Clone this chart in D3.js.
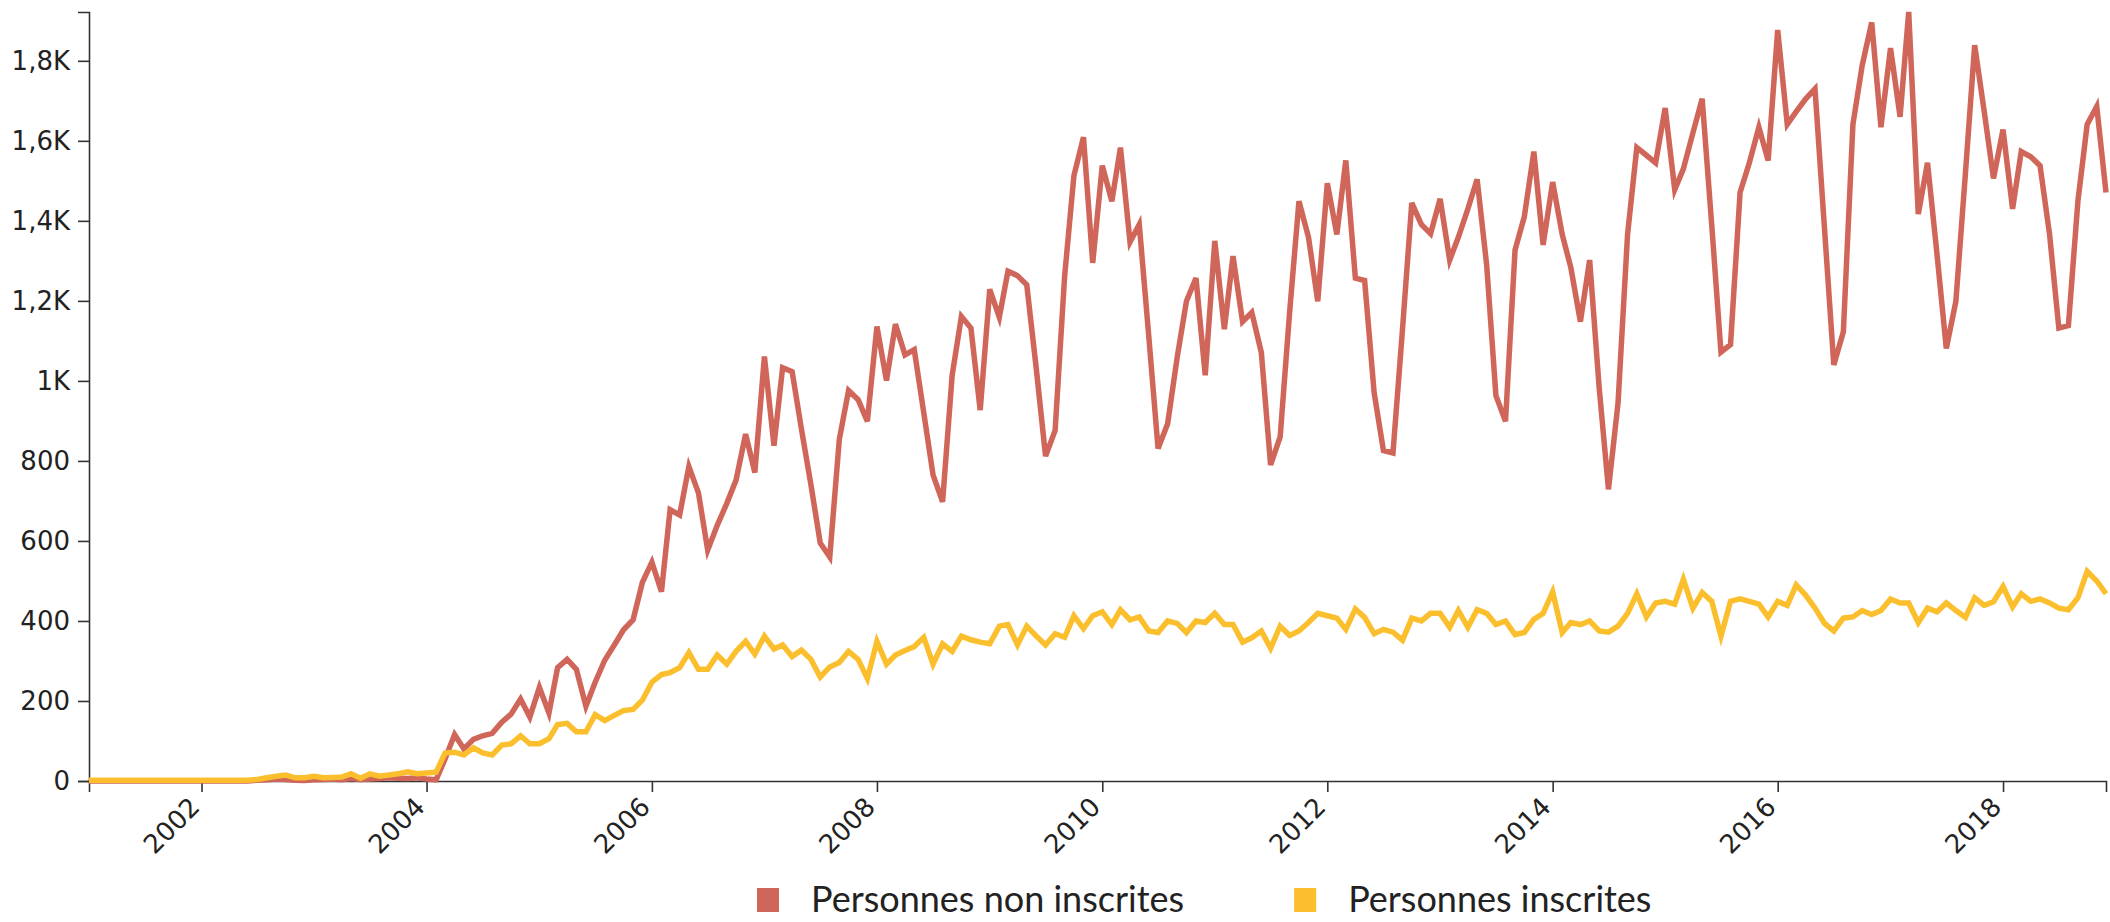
<!DOCTYPE html>
<html>
<head>
<meta charset="utf-8">
<script src="https://cdn.jsdelivr.net/npm/d3@7"></script>
<style>
body { margin: 0; background: #fff; }
.axis path, .axis line { stroke: #333; stroke-width: 1.6; }
.axis text { font-family: "DejaVu Sans", sans-serif; font-size: 26px; fill: #222; }
.legend text { font-family: Lato, sans-serif; font-size: 36px; fill: #222; }
</style>
</head>
<body>
<script>
// monthly values, Jan 2001 -> Dec 2018 (one row per year)
var nonInscrites = [
	0,0,0,0,0,0,0,0,0,0,0,0,
	0,0,0,0,0,0,2,3,5,4,2,1,
	3,4,5,3,6,4,5,6,8,7,6,8,
	5,3,55,116,80,104,113,119,147,167,205,160,
	234,170,283,304,279,187,247,302,340,378,403,496,
	547,473,678,665,786,720,577,639,694,752,867,771,
	1061,838,1033,1023,880,740,595,560,854,976,953,899,
	1136,1001,1142,1065,1078,920,765,698,1014,1161,1132,927,
	1229,1159,1274,1263,1240,1030,812,876,1263,1513,1609,1295,
	1538,1449,1583,1347,1391,1110,831,893,1059,1199,1257,1014,
	1350,1129,1312,1148,1171,1071,790,860,1174,1449,1359,1199,
	1494,1366,1551,1257,1251,970,826,820,1130,1445,1391,1368,
	1455,1302,1359,1430,1504,1289,963,899,1327,1410,1573,1340,
	1497,1366,1283,1148,1302,982,729,944,1366,1583,1564,1545,
	1682,1478,1530,1620,1705,1390,1072,1091,1471,1545,1634,1551,
	1877,1641,1673,1705,1730,1379,1040,1123,1641,1788,1896,1634,
	1832,1660,1922,1417,1545,1315,1081,1199,1519,1839,1673,1506,
	1628,1430,1573,1560,1538,1366,1132,1138,1450,1641,1686,1471
];

var inscrites = [
	2,2,2,2,2,2,2,2,2,2,2,2,
	2,2,2,2,2,2,4,8,12,15,8,8,
	12,8,9,10,18,7,18,12,15,18,23,18,
	20,22,70,72,65,83,70,65,90,93,113,93,
	93,106,141,144,123,123,166,151,164,176,179,202,
	247,266,271,283,321,279,279,315,292,324,349,317,
	362,330,340,311,327,304,260,285,296,324,304,256,
	349,292,315,326,336,359,292,343,324,362,353,347,
	343,387,391,340,387,362,340,368,359,413,381,413,
	423,391,428,403,410,375,371,400,394,371,400,396,
	419,391,391,347,358,375,332,387,364,375,396,419,
	413,407,379,430,409,368,379,372,352,407,400,419,
	419,384,426,384,428,419,391,400,366,371,404,419,
	473,371,396,391,400,375,372,387,419,468,410,445,
	449,442,504,432,471,449,362,449,455,449,442,410,
	449,439,490,464,432,394,375,407,410,426,416,426,
	455,445,445,396,432,423,445,426,409,458,439,448,
	486,435,468,449,455,445,432,428,458,524,500,468
];

var seriesNames = ["Personnes non inscrites", "Personnes inscrites"];
var seriesColors = ["#d0665a", "#fbbf2d"];
var yTickValues = [0, 200, 400, 600, 800, 1000, 1200, 1400, 1600, 1800];

var months = d3.timeMonth.range(new Date(2001, 0, 1), new Date(2019, 0, 1));

var config = {
	width: 2110,
	height: 922,
	margin: { top: 12, right: 4, bottom: 141, left: 89 }
};

function frenchK(d){
	if(d >= 1000){
		return String(d / 1000).replace(".", ",") + "K";
	}
	return String(d);
}

function plotGraph(){
	var m = config.margin;
	var innerW = config.width - m.left - m.right;
	var innerH = config.height - m.top - m.bottom;

	var svg = d3.select("body").append("svg")
		.attr("width", config.width)
		.attr("height", config.height);

	var g = svg.append("g")
		.attr("transform", "translate(" + m.left + "," + m.top + ")");

	var x = d3.scaleTime()
		.domain(d3.extent(months))
		.range([0, innerW]);

	var y = d3.scaleLinear()
		.domain([0, d3.max(nonInscrites.concat(inscrites))])
		.range([innerH, 0]);

	var xAxis = g.append("g")
		.attr("class", "axis")
		.attr("transform", "translate(0," + innerH + ")")
		.call(d3.axisBottom(x)
			.ticks(d3.timeYear.every(2))
			.tickFormat(d3.timeFormat("%Y"))
			.tickSize(11)
			.tickPadding(4));

	// rotated year labels, ending at the tick
	xAxis.selectAll("text")
		.attr("text-anchor", "end")
		.attr("x", -20)
		.attr("y", 19)
		.attr("dy", 0)
		.attr("transform", "rotate(-45)");

	g.append("g")
		.attr("class", "axis")
		.call(d3.axisLeft(y)
			.tickValues(yTickValues)
			.tickFormat(frenchK)
			.tickSize(11)
			.tickPadding(8));

	var line = d3.line()
		.x(function(d, i){ return x(months[i]); })
		.y(function(d){ return y(d); });

	[nonInscrites, inscrites].forEach(function(series, i){
		g.append("path")
			.datum(series)
			.attr("fill", "none")
			.attr("stroke", seriesColors[i])
			.attr("stroke-width", 5.5)
			.attr("d", line);
	});

	// legend
	var legend = svg.append("g")
		.attr("class", "legend")
		.attr("transform", "translate(757,899)");

	var offset = 0;
	seriesNames.forEach(function(name, i){
		var item = legend.append("g")
			.attr("transform", "translate(" + offset + ",0)");
		item.append("rect")
			.attr("x", 0)
			.attr("y", -11)
			.attr("width", 22)
			.attr("height", 24)
			.attr("fill", seriesColors[i]);
		var label = item.append("text")
			.attr("x", 54)
			.attr("dy", "0.36em")
			.text(name);
		offset += 54 + label.node().getComputedTextLength() + 110;
	});
}

plotGraph();
</script>
</body>
</html>
